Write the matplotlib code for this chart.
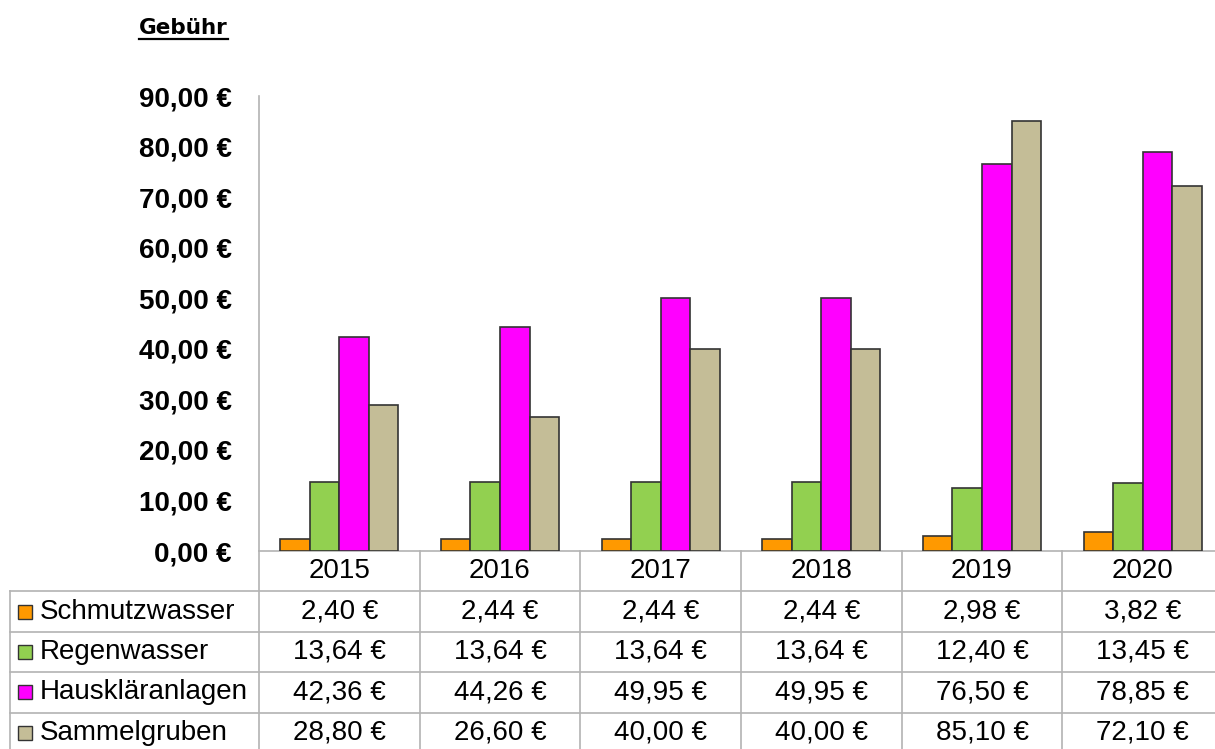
import matplotlib.pyplot as plt
from matplotlib.lines import Line2D

# Data
years = ['2015', '2016', '2017', '2018', '2019', '2020']
series_names = ['Schmutzwasser', 'Regenwasser', 'Hauskläranlagen', 'Sammelgruben']
schmutzwasser = [2.40, 2.44, 2.44, 2.44, 2.98, 3.82]
regenwasser = [13.64, 13.64, 13.64, 13.64, 12.40, 13.45]
hausklaeranlagen = [42.36, 44.26, 49.95, 49.95, 76.50, 78.85]
sammelgruben = [28.80, 26.60, 40.00, 40.00, 85.10, 72.10]
y_ticks = [0, 10, 20, 30, 40, 50, 60, 70, 80, 90]
title = 'Gebühr'

colors = ['#ff9900', '#92d050', '#ff00ff', '#c4bd97']
grid_color = '#b3b3b3'
edge_color = '#333333'

plt.rcParams['font.family'] = ['Liberation Sans', 'DejaVu Sans']


def euro(v):
    return f'{v:.2f}'.replace('.', ',') + ' €'


# Figure layout in pixels
W, H = 1215, 749
fig = plt.figure(figsize=(W / 100, H / 100), dpi=100)

ax_l, ax_r = 259, 1223
ax_top, ax_bot = 96, 551
col_w = (ax_r - ax_l) / len(years)
row_h = 40.4
table_l = 10

ax = fig.add_axes([ax_l / W, 1 - ax_bot / H, (ax_r - ax_l) / W, (ax_bot - ax_top) / H])

all_series = [schmutzwasser, regenwasser, hausklaeranlagen, sammelgruben]
bar_w = 0.184
x = list(range(len(years)))
for i, (vals, c) in enumerate(zip(all_series, colors)):
    xs = [xi + (i - 1.5) * bar_w for xi in x]
    ax.bar(xs, vals, width=bar_w, color=c, edgecolor=edge_color, linewidth=1.2, zorder=3)

ax.set_xlim(-0.5, len(years) - 0.5)
ax.set_ylim(0, 90)
ax.set_xticks([])
ax.set_yticks(y_ticks)
ax.set_yticklabels([euro(t) for t in y_ticks], fontsize=20, fontweight='bold')
ax.tick_params(axis='y', length=0, pad=19.5)
for s in ['top', 'right']:
    ax.spines[s].set_visible(False)
for s in ['left', 'bottom']:
    ax.spines[s].set_color(grid_color)
    ax.spines[s].set_linewidth(1.2)

# Title with underline
fig.text(139 / W, 1 - 34 / H, title, fontsize=15.5, fontweight='bold',
         family='DejaVu Sans', ha='left', va='baseline')
fig.add_artist(Line2D([139 / W, 228 / W], [1 - 38.5 / H, 1 - 38.5 / H],
                      color='black', linewidth=1.6))

# Data table below the chart
n_rows = len(series_names) + 1
tax = fig.add_axes([table_l / W, 1 - (ax_bot + n_rows * row_h) / H,
                    (ax_r - table_l) / W, n_rows * row_h / H])
x_left = -0.5 - (ax_l - table_l) / col_w
tax.set_xlim(x_left, len(years) - 0.5)
tax.set_ylim(n_rows, 0)
tax.axis('off')

# grid lines
for r in range(1, n_rows + 1):
    tax.plot([x_left, len(years) - 0.5], [r, r], color=grid_color, lw=1.2, clip_on=False)
for c in range(len(years) + 1):
    tax.plot([c - 0.5, c - 0.5], [0, n_rows], color=grid_color, lw=1.2, clip_on=False)
tax.plot([x_left, x_left], [1, n_rows], color=grid_color, lw=1.2, clip_on=False)

for i, yr in enumerate(years):
    tax.text(i, 0.5, yr, fontsize=20, ha='center', va='center')

for r, (name, vals, c) in enumerate(zip(series_names, all_series, colors), start=1):
    tax.plot([x_left + 15 / col_w], [r + 0.5], marker='s', markersize=10,
             color=c, markeredgecolor=edge_color, markeredgewidth=1.0, clip_on=False)
    tax.text(x_left + 30 / col_w, r + 0.5, name, fontsize=20, ha='left', va='center')
    for i, v in enumerate(vals):
        tax.text(i, r + 0.5, euro(v), fontsize=20, ha='center', va='center')

fig.savefig('out.png', dpi=100)
